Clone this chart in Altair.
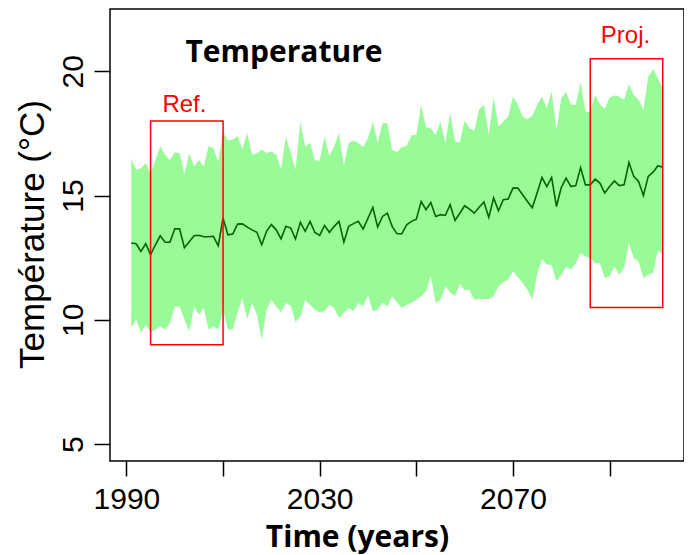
import altair as alt
import pandas as pd

years = list(range(1991, 2102))

t_mean = [13.09, 13.06, 12.75, 13.06, 12.62, 13.02, 13.38, 13.12, 13.12, 13.66,
          13.66, 12.90, 13.14, 13.38, 13.40, 13.34, 13.34, 13.36, 12.98, 14.09,
          13.42, 13.45, 13.85, 13.86, 13.73, 13.62, 13.52, 13.02, 13.56, 13.83,
          13.62, 13.26, 13.76, 13.69, 13.25, 13.92, 13.56, 13.96, 13.52, 13.40,
          13.79, 13.52, 13.76, 13.96, 13.12, 13.76, 13.87, 13.96, 13.65, 14.09,
          14.52, 13.73, 14.16, 14.29, 13.76, 13.46, 13.46, 13.82, 13.96, 14.05,
          14.76, 14.43, 14.72, 14.16, 14.23, 14.20, 14.63, 14.00, 14.29, 14.59,
          14.45, 14.29, 14.53, 14.74, 14.12, 14.90, 14.39, 14.83, 14.86, 15.30,
          15.30, 15.03, 14.76, 14.51, 15.10, 15.73, 15.36, 15.73, 14.56, 15.32,
          15.70, 15.36, 15.40, 16.13, 15.43, 15.43, 15.66, 15.50, 15.10, 15.36,
          15.59, 15.40, 15.43, 16.33, 15.77, 15.57, 15.00, 15.77, 15.94, 16.20,
          16.14]

t_max = [16.46, 16.04, 16.10, 16.30, 15.90, 16.43, 16.99, 16.64, 16.43, 16.74,
         16.70, 15.87, 16.70, 16.17, 16.43, 16.17, 16.99, 16.90, 16.37, 17.57,
         17.21, 17.24, 17.40, 16.86, 17.51, 16.64, 16.70, 16.84, 16.71, 16.77,
         16.64, 16.06, 17.37, 16.71, 16.04, 17.98, 16.97, 17.11, 16.41, 16.41,
         17.37, 16.60, 16.97, 17.53, 16.20, 17.11, 17.21, 17.11, 16.95, 17.31,
         17.98, 17.11, 17.91, 17.91, 16.84, 16.74, 16.95, 17.00, 17.44, 17.44,
         18.65, 17.75, 17.71, 17.44, 17.98, 17.11, 18.34, 17.17, 17.13, 18.02,
         17.71, 17.61, 18.47, 18.65, 17.44, 18.95, 17.78, 17.98, 18.18, 18.98,
         18.65, 18.18, 18.07, 18.21, 18.65, 18.98, 18.51, 19.21, 17.64, 18.91,
         19.18, 18.65, 18.65, 19.56, 18.35, 18.38, 19.05, 18.67, 18.49, 18.94,
         19.02, 18.98, 18.85, 19.48, 19.05, 18.85, 18.45, 19.78, 20.09, 19.72,
         19.32]

t_min = [9.67, 10.03, 9.47, 9.81, 9.50, 9.61, 9.74, 9.61, 9.87, 10.52,
         10.54, 10.01, 9.54, 10.54, 10.21, 10.48, 9.61, 9.74, 9.61, 10.41,
         9.61, 9.61, 10.28, 10.88, 10.01, 10.68, 10.21, 9.21, 10.41, 10.81,
         10.54, 10.30, 10.68, 10.57, 9.90, 10.14, 10.79, 10.61, 10.41, 10.30,
         10.34, 10.61, 10.48, 10.07, 10.28, 10.48, 10.34, 10.68, 10.54, 11.01,
         10.34, 10.41, 10.70, 10.54, 10.95, 10.71, 10.48, 10.61, 10.68, 10.81,
         10.95, 11.15, 11.75, 10.68, 10.81, 11.35, 11.11, 10.95, 11.45, 11.19,
         11.21, 10.81, 10.84, 10.84, 10.84, 10.95, 11.35, 11.51, 11.62, 11.95,
         11.72, 11.48, 11.21, 10.81, 11.82, 12.46, 12.22, 12.22, 11.55, 11.82,
         12.15, 12.02, 12.28, 12.69, 12.55, 12.49, 12.28, 12.28, 11.68, 11.75,
         12.15, 11.82, 12.08, 13.09, 12.49, 12.35, 11.68, 11.82, 11.88, 12.82,
         12.62]

box_x1 = [1995, 2086]
box_x2 = [2010, 2101]
box_y1 = [9.0, 10.5]
box_y2 = [18.0, 20.5]

label_text = ["Ref.", "Proj."]
label_x = [2002.0, 2093.3]
label_y = [18.36, 21.14]

title_text = ["Temperature"]
title_x = [2022.6]
title_y = [20.37]

x_ticks = [1990, 2010, 2030, 2050, 2070, 2090]
y_ticks = [5, 10, 15, 20]

df = pd.DataFrame({"year": years, "tmean": t_mean, "tmin": t_min, "tmax": t_max})
boxes = pd.DataFrame({"x1": box_x1, "x2": box_x2, "y1": box_y1, "y2": box_y2})
labels = pd.DataFrame({"t": label_text, "x": label_x, "y": label_y})
titles = pd.DataFrame({"t": title_text, "x": title_x, "y": title_y})

x_scale = alt.Scale(domain=[1986.6, 2105.4], nice=False, zero=False)
y_scale = alt.Scale(domain=[4.32, 22.505], nice=False, zero=False)

x_axis = alt.Axis(
    values=x_ticks, format="d",
    labelExpr="datum.value % 40 == 30 ? datum.label : ''",
    grid=False, domain=False, tickSize=15, tickWidth=1.5, tickColor="black",
    labelFont="Liberation Sans", labelFontSize=30, labelColor="black",
    labelBaseline="alphabetic", labelAlign="center", labelPadding=32,
    labelFlush=False, labelOverlap=False,
    titleFont="Open Sans", titleFontSize=30, titleFontWeight="bold",
    titleColor="black", titleX=247, titleY=85, titleAlign="center",
    titleBaseline="alphabetic",
)
y_axis = alt.Axis(
    values=y_ticks,
    grid=False, domain=False, tickSize=16, tickWidth=1.5, tickColor="black",
    labelFont="Liberation Sans", labelFontSize=30, labelColor="black",
    labelAngle=270, labelAlign="center", labelBaseline="alphabetic",
    labelPadding=12, labelOverlap=False,
    titleFont="Liberation Sans", titleFontSize=35, titleFontWeight="normal",
    titleColor="black", titleAngle=270, titleX=-67, titleY=225,
    titleAlign="center", titleBaseline="alphabetic",
)

XT = "Time (years)"
YT = "Température (°C)"


def X(field):
    return alt.X(field, type="quantitative", scale=x_scale, axis=x_axis, title=XT)


def Y(field):
    return alt.Y(field, type="quantitative", scale=y_scale, axis=y_axis, title=YT)


band = alt.Chart(df).mark_area(color="#98FB98", opacity=1).encode(
    x=X("year"), y=Y("tmin"), y2="tmax"
)
line = alt.Chart(df).mark_line(color="#006400", strokeWidth=1.6).encode(
    x=X("year"), y=Y("tmean")
)
rects = alt.Chart(boxes).mark_rect(filled=False, stroke="#FF0000", strokeWidth=1.5).encode(
    x=X("x1"), x2="x2", y=Y("y1"), y2="y2"
)
lab = alt.Chart(labels).mark_text(
    font="Liberation Sans", fontSize=24, color="#FF0000", align="center", baseline="alphabetic"
).encode(x=X("x"), y=Y("y"), text="t")
ttl = alt.Chart(titles).mark_text(
    font="Open Sans", fontSize=30, fontWeight="bold", color="black", align="center", baseline="alphabetic"
).encode(x=X("x"), y=Y("y"), text="t")

chart = alt.layer(band, line, rects, lab, ttl).properties(
    width=574, height=452,
    padding={"left": 102, "top": 1, "right": 0, "bottom": 93},
    autosize=alt.AutoSizeParams(type="none"),
    background="white",
).configure_view(stroke="black", strokeWidth=1.5)

chart.save("out.html", embed_options={"renderer": "svg", "actions": False})
